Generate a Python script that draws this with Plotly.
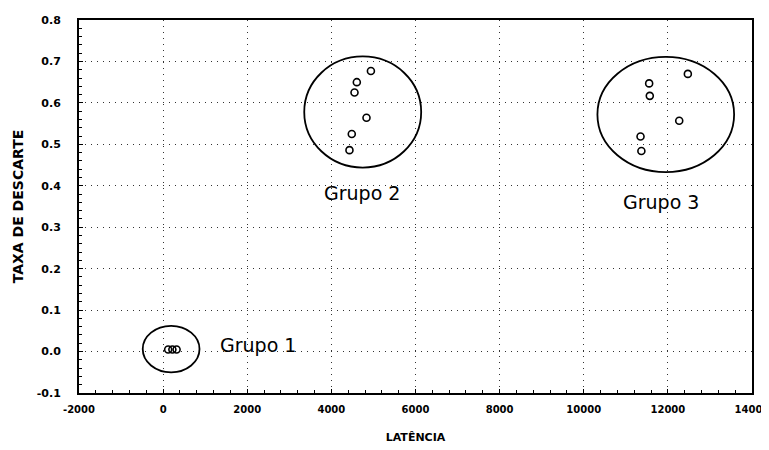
import plotly.graph_objects as go

# ---- data ----
grupo1_x = [120, 220, 320]
grupo1_y = [0.005, 0.005, 0.005]
grupo2_x = [4940, 4605, 4550, 4835, 4485, 4430]
grupo2_y = [0.677, 0.650, 0.625, 0.564, 0.525, 0.486]
grupo3_x = [12475, 11555, 11570, 12270, 11350, 11370]
grupo3_y = [0.670, 0.647, 0.617, 0.557, 0.519, 0.484]

# cluster ellipses: centre x, centre y, radius x, radius y
ell_cx = [190, 4745, 11950]
ell_cy = [0.006, 0.578, 0.572]
ell_rx = [675, 1390, 1625]
ell_ry = [0.056, 0.134, 0.139]

labels = ["Grupo 1", "Grupo 2", "Grupo 3"]
label_x = [2250, 4725, 11830]
label_y = [0.016, 0.383, 0.362]

x_ticks = [-2000, 0, 2000, 4000, 6000, 8000, 10000, 12000, 14000]
y_ticks = [-0.1, 0.0, 0.1, 0.2, 0.3, 0.4, 0.5, 0.6, 0.7, 0.8]

x_title = "LATÊNCIA"
y_title = "TAXA DE DESCARTE"

fig = go.Figure()
xs = grupo1_x + grupo2_x + grupo3_x
ys = grupo1_y + grupo2_y + grupo3_y
fig.add_trace(go.Scatter(
    x=xs, y=ys, mode="markers",
    marker=dict(symbol="circle-open", size=7, color="black", line=dict(width=1.6, color="black")),
    showlegend=False, hoverinfo="x+y"))

for cx, cy, rx, ry in zip(ell_cx, ell_cy, ell_rx, ell_ry):
    fig.add_shape(type="circle", xref="x", yref="y",
                  x0=cx - rx, x1=cx + rx, y0=cy - ry, y1=cy + ry,
                  line=dict(color="black", width=1.8))

for t, lx, ly in zip(labels, label_x, label_y):
    fig.add_annotation(x=lx, y=ly, text=t, showarrow=False, xref="x", yref="y",
                       font=dict(family="DejaVu Sans", size=19, color="black"))

grid_dash = "1px,5px"
fig.update_xaxes(
    range=[-2000.001, 14000.001], tickvals=x_ticks, ticktext=[str(v) for v in x_ticks],
    showline=True, linecolor="black", linewidth=2, mirror=True,
    showgrid=True, gridcolor="#333333", griddash=grid_dash, gridwidth=1,
    zeroline=False, ticks="inside", ticklen=4, tickcolor="black",
    minor=dict(dtick=400, ticks="inside", ticklen=3, tickcolor="black", showgrid=False),
    tickfont=dict(family="DejaVu Sans", size=10, color="black", weight="bold"),
    ticklabelstandoff=6, ticklabeloverflow="allow",
    title=dict(text=x_title, font=dict(family="DejaVu Sans", size=11, color="black", weight="bold"), standoff=19),
)
fig.update_yaxes(
    range=[-0.1, 0.8], tickvals=y_ticks, ticktext=[f"{v:.1f}" for v in y_ticks],
    showline=True, linecolor="black", linewidth=2, mirror=True,
    showgrid=True, gridcolor="#333333", griddash=grid_dash, gridwidth=1,
    zeroline=False, ticks="inside", ticklen=4, tickcolor="black",
    minor=dict(dtick=0.02, ticks="inside", ticklen=3, tickcolor="black", showgrid=False),
    tickfont=dict(family="DejaVu Sans", size=11, color="black", weight="bold"),
    ticklabelstandoff=14,
    title=dict(text=y_title, font=dict(family="DejaVu Sans", size=14, color="black", weight="bold"), standoff=10),
)
fig.update_layout(
    width=761, height=442,
    margin=dict(l=71, r=17, t=12, b=57, autoexpand=False),
    plot_bgcolor="white", paper_bgcolor="white",
)
fig.write_html("out.html")
